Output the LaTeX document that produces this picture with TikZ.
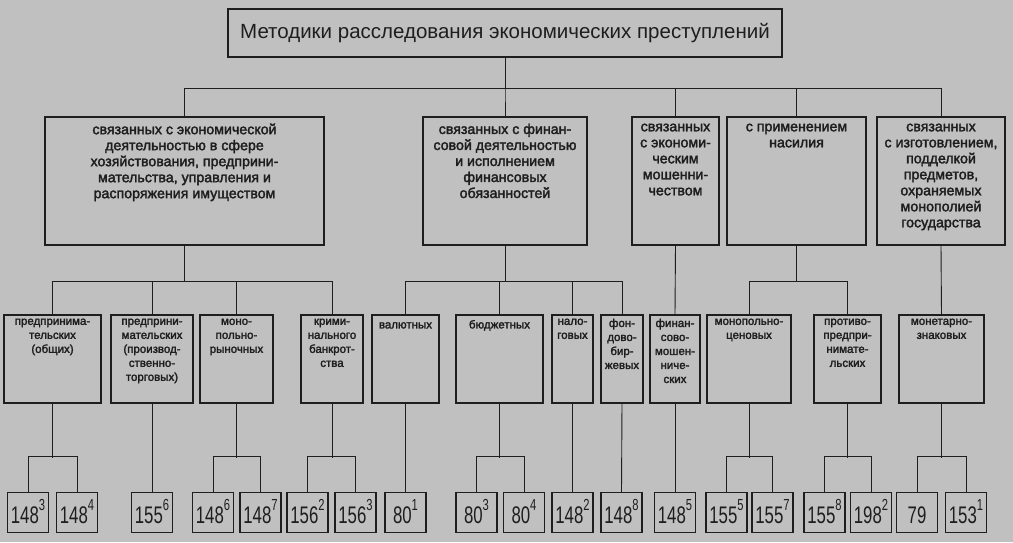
\documentclass[tikz,border=0pt]{standalone}
\usepackage{fontspec}
\setmainfont{Liberation Sans}
\newfontfamily\heavyfont{Liberation Sans}[FakeBold=2.2]
\newfontfamily\narrowfont{Liberation Sans}[FakeStretch=0.7]
\definecolor{paper}{RGB}{192,192,192}
\definecolor{ink}{RGB}{30,30,30}
\newcommand{\lnum}[2]{#1\raisebox{13pt}{\fontsize{16}{16}\selectfont #2}}
\begin{document}
\begin{tikzpicture}[x=1pt, y=-1pt,
	cell/.style 2 args={draw=ink, line width=1.1pt, inner sep=0pt, minimum width=#1, minimum height=#2},
	headtext/.style={anchor=north, align=center, inner sep=0pt, yshift=-7pt, text=ink, font=\heavyfont\fontsize{14.2}{16}\selectfont, execute at begin node=\strut},
	subtext/.style={anchor=north, align=center, inner sep=0pt, yshift=-4pt, text=ink, font=\heavyfont\fontsize{11.5}{14}\selectfont, execute at begin node=\strut},
	leaf/.style={cell={41}{40}, text=ink, text height=22pt, text depth=0pt, font=\narrowfont\fontsize{24}{24}\selectfont},
	link/.style={draw=ink, line width=0.9pt}]
	\useasboundingbox (0,0) rectangle (1013,542);
	\fill[paper] (0,0) rectangle (1013,542);
	% top
	\node[cell={554}{48}, text=ink, font=\fontsize{20.5}{24}\selectfont] (title) at (505,33) {Методики расследования экономических преступлений};
	% first level
	\node[cell={279}{128}] (econ) at (184.5,181) {};
	\node[cell={164}{128}] (fin) at (505,181) {};
	\node[cell={87}{128}] (fraud) at (675.5,181) {};
	\node[cell={139}{128}] (viol) at (796.5,181) {};
	\node[cell={128}{128}] (forge) at (941,181) {};
	\node[headtext] (econ-t) at (econ.north) {связанных с экономической\\деятельностью в сфере\\хозяйствования, предприни-\\мательства, управления и\\распоряжения имуществом};
	\node[headtext] (fin-t) at (fin.north) {связанных с финан-\\совой деятельностью\\и исполнением\\финансовых\\обязанностей};
	\node[headtext] (fraud-t) at (fraud.north) {связанных\\с экономи-\\ческим\\мошенни-\\чеством};
	\node[headtext] (viol-t) at (viol.north) {с применением\\насилия};
	\node[headtext] (forge-t) at (forge.north) {связанных\\с изготовлением,\\подделкой\\предметов,\\охраняемых\\монополией\\государства};
	% second level
	\node[cell={97}{88}] (obsh) at (52.5,359) {};
	\node[cell={82}{88}] (proizv) at (152,359) {};
	\node[cell={73}{88}] (monor) at (236.5,359) {};
	\node[cell={62}{88}] (bankr) at (332,359) {};
	\node[cell={67}{88}] (valut) at (405.5,359) {};
	\node[cell={87}{88}] (budzh) at (499.5,359) {};
	\node[cell={41}{88}] (nalog) at (572.5,359) {};
	\node[cell={42}{88}] (fond) at (622,359) {};
	\node[cell={50}{88}] (finmosh) at (675,359) {};
	\node[cell={84}{88}] (monots) at (749,359) {};
	\node[cell={67}{88}] (protiv) at (847.5,359) {};
	\node[cell={85}{88}] (monet) at (941.5,359) {};
	\node[subtext] (obsh-t) at (obsh.north) {предпринима-\\тельских\\(общих)};
	\node[subtext] (proizv-t) at (proizv.north) {предприни-\\мательских\\(производ-\\ственно-\\торговых)};
	\node[subtext] (monor-t) at (monor.north) {моно-\\польно-\\рыночных};
	\node[subtext] (bankr-t) at (bankr.north) {крими-\\нального\\банкрот-\\ства};
	\node[subtext] (valut-t) at (valut.north) {валютных};
	\node[subtext] (budzh-t) at (budzh.north) {бюджетных};
	\node[subtext] (nalog-t) at (nalog.north) {нало-\\говых};
	\node[subtext] (fond-t) at (fond.north) {фон-\\дово-\\бир-\\жевых};
	\node[subtext] (finmosh-t) at (finmosh.north) {финан-\\сово-\\мошен-\\ниче-\\ских};
	\node[subtext] (monots-t) at (monots.north) {монопольно-\\ценовых};
	\node[subtext] (protiv-t) at (protiv.north) {противо-\\предпри-\\нимате-\\льских};
	\node[subtext] (monet-t) at (monet.north) {монетарно-\\знаковых};
	% articles
	\foreach \x/\n/\s [count=\i] in {28/148/3, 77/148/4, 152/155/6, 213/148/6, 260.5/148/7,
		307.5/156/2, 355.5/156/3, 405.5/80/1, 476.5/80/3, 524/80/4, 572.5/148/2, 621.5/148/8,
		675/148/5, 726.5/155/5, 772.5/155/7, 824.5/155/8, 871/198/2, 917/79/, 966/153/1}
		\node[leaf] (l\i) at (\x,512.5) {\lnum{\n}{\s}};
	% connectors
	\foreach \c in {econ,fin,fraud,viol,forge}
		\draw[link] (title.south) -- ++(0,31) -| (\c.north);
	\foreach \c in {obsh,proizv,monor,bankr}
		\draw[link] (econ.south) -- ++(0,36) -| (\c.north);
	\foreach \c in {valut,budzh,nalog,fond}
		\draw[link] (fin.south) -- ++(0,36) -| (\c.north);
	\draw[link] (fraud.south) -- (finmosh.north);
	\foreach \c in {monots,protiv}
		\draw[link] (viol.south) -- ++(0,36) -| (\c.north);
	\draw[link] (forge.south) -- (monet.north);
	\foreach \p/\a/\b in {obsh/1/2, monor/4/5, bankr/6/7, budzh/9/10, monots/14/15, protiv/16/17, monet/18/19}
		\draw[link] (l\a.north) |- ++(0,-36) -| (l\b.north) (\p.south) -- ++(0,54);
	\foreach \p/\a in {proizv/3, valut/8, nalog/11, fond/12, finmosh/13}
		\draw[link] (\p.south) -- (l\a.north);
\end{tikzpicture}
\end{document}
